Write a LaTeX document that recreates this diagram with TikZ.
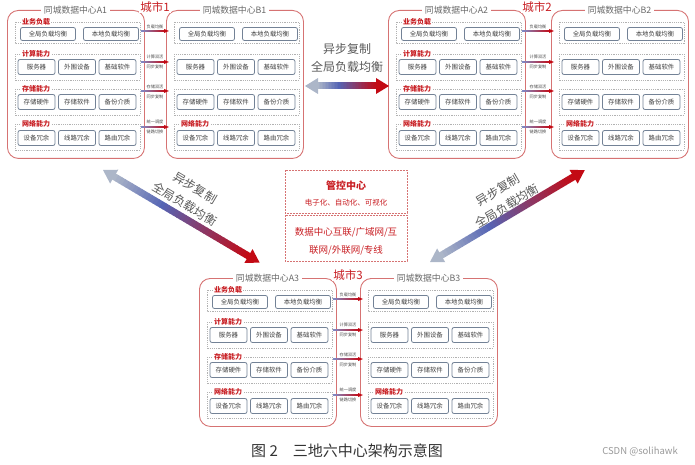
\documentclass[tikz,border=0pt]{standalone}
\usepackage{fontspec}
\setmainfont{Noto Sans CJK SC}
\definecolor{dcred}{RGB}{200,30,35}
\definecolor{dcline}{RGB}{214,115,115}
\definecolor{dcgrey}{RGB}{105,105,105}
\definecolor{btnline}{RGB}{115,130,150}
\definecolor{abgrey}{RGB}{172,182,200}
\definecolor{abblue}{RGB}{85,100,180}
\definecolor{abred}{RGB}{195,10,20}

\begin{document}
\begin{tikzpicture}[x=1pt,y=-1pt,
	cluster/.style={draw=dcline, line width=0.9pt, rounded corners=11pt, minimum width=137pt, minimum height=148pt, anchor=north west, inner sep=0pt},
	dctitle/.style={fill=white, text=dcgrey, font=\fontsize{8.8}{9}\selectfont, inner sep=2.5pt},
	city/.style={fill=white, text=dcred, font=\fontsize{11.5}{12}\selectfont, inner sep=1pt},
	grp/.style={draw=gray!60, dash pattern=on 1.2pt off 1pt, line width=0.5pt},
	grphead/.style={fill=white, text=dcred, font=\fontsize{7}{7}\selectfont\bfseries, inner sep=1pt, anchor=west},
	btn/.style={draw=btnline, line width=0.8pt, rounded corners=2pt, fill=white, text=black!75, font=\fontsize{6.4}{7}\selectfont, inner sep=0pt, minimum height=13pt},
	lnk/.style={text=black!70, font=\fontsize{4.2}{5}\selectfont, inner sep=0pt},
	mgbox/.style={draw=dcline, dash pattern=on 2pt off 1pt, line width=0.6pt},
	arrowtxt/.style={text=black!65, font=\fontsize{12}{18}\selectfont, inner sep=0pt},
	]
	\useasboundingbox (0,0) rectangle (695,465);
	
	% six data centres
	\foreach \cx/\cy/\nm/\dcname/\hd in {7/10/A1/同城数据中心A1/1, 166/10/B1/同城数据中心B1/0, 388/10/A2/同城数据中心A2/1, 551/10/B2/同城数据中心B2/0, 199/278/A3/同城数据中心A3/1, 360/278/B3/同城数据中心B3/0}{
		\begin{scope}[shift={(\cx,\cy)}]
			\node[cluster] (\nm) at (0,0) {};
			\draw[grp] (8,12) rectangle (133,33);
			\draw[grp] (8,44) rectangle (133,70);
			\draw[grp] (8,79) rectangle (133,105);
			\draw[grp] (8,114) rectangle (133,140);
			\node[dctitle] (\nm-title) at (68.5,0) {\dcname};
			\ifnum\hd=1
			\node[grphead] (\nm-h1) at (14,12) {业务负载};
			\node[grphead] (\nm-h2) at (14,44) {计算能力};
			\node[grphead] (\nm-h3) at (14,79) {存储能力};
			\fi
			\node[grphead] (\nm-h4) at (14,114) {网络能力};
			\node[btn, minimum width=55pt] (\nm-11) at (41,24) {全局负载均衡};
			\node[btn, minimum width=55pt] (\nm-12) at (104,24) {本地负载均衡};
			\foreach \ry/\r/\ba/\bb/\bc in {57/2/服务器/外围设备/基础软件, 92/3/存储硬件/存储软件/备份介质, 128/4/设备冗余/线路冗余/路由冗余}{
				\node[btn, minimum width=37pt, minimum height=15pt] (\nm-\r1) at (29.5,\ry) {\ba};
				\node[btn, minimum width=37pt, minimum height=15pt] (\nm-\r2) at (70,\ry) {\bb};
				\node[btn, minimum width=37pt, minimum height=15pt] (\nm-\r3) at (110.5,\ry) {\bc};
			}
		\end{scope}
	}
	
	% links inside each city
	\foreach \ax/\bx/\ly/\pr in {144/166/10/1, 525/551/10/2, 336/360/278/3}{
		\pgfmathsetmacro\mx{(\ax+\bx)/2}
		\foreach \ay in {21,52,81,117}{
			\shade[left color=abblue!75!white, right color=abred] (\ax-3,\ly+\ay-0.8) rectangle (\bx-1,\ly+\ay+0.8);
			\fill[abred] (\bx+3,\ly+\ay) -- (\bx-2,\ly+\ay-2) -- (\bx-2,\ly+\ay+2) -- cycle;
		}
		\node[lnk] (lk\pr-1) at (\mx,\ly+17) {负载均衡};
		\node[lnk] (lk\pr-2) at (\mx,\ly+47) {计算双活};
		\node[lnk] (lk\pr-3) at (\mx,\ly+57) {同步复制};
		\node[lnk] (lk\pr-4) at (\mx,\ly+77) {存储双活};
		\node[lnk] (lk\pr-5) at (\mx,\ly+87) {同步复制};
		\node[lnk] (lk\pr-6) at (\mx,\ly+112) {统一调度};
		\node[lnk] (lk\pr-7) at (\mx,\ly+122) {链路切换};
	}
	
	\node[city] (city1) at (155,7) {城市1};
	\node[city] (city2) at (537,7) {城市2};
	\node[city] (city3) at (348,275) {城市3};
	
	% big gradient arrows between cities
	\foreach \sx/\sy/\ang/\len in {305/86/0/84, 103/170/-30.6/182, 430/262/30.7/180}{
		\begin{scope}[shift={(\sx,\sy)}, rotate=\ang]
			\foreach \i in {0,...,39}{
				\pgfmathsetmacro\sa{12+(\len-24)*\i/40}
				\pgfmathsetmacro\sb{12+(\len-24)*(\i+1)/40+0.5}
				\ifnum\i<14
				\pgfmathtruncatemacro\pc{100*\i/14}
				\fill[abblue!\pc!abgrey] (\sa,-3.5) rectangle (\sb,3.5);
				\else
				\pgfmathtruncatemacro\pc{100*(\i-14)/25}
				\fill[abred!\pc!abblue] (\sa,-3.5) rectangle (\sb,3.5);
				\fi
			}
			\fill[abgrey] (0,0) -- (13,-8) -- (13,8) -- cycle;
			\fill[abred] (\len,0) -- (\len-13,-8) -- (\len-13,8) -- cycle;
		\end{scope}
	}
	\node[arrowtxt] (asyncT1) at (347,49) {异步复制};
	\node[arrowtxt] (asyncT2) at (347,67) {全局负载均衡};
	\node[arrowtxt, rotate=-30.6] (asyncL1) at (195,188) {异步复制};
	\node[arrowtxt, rotate=-30.6] (asyncL2) at (185,204) {全局负载均衡};
	\node[arrowtxt, rotate=30.7] (asyncR1) at (498,190) {异步复制};
	\node[arrowtxt, rotate=30.7] (asyncR2) at (507,206) {全局负载均衡};
	
	% control centre
	\draw[mgbox] (285,170) rectangle (407,213);
	\node[text=dcred, font=\fontsize{10}{12}\selectfont\bfseries] (mgc) at (346,186) {管控中心};
	\node[text=dcred, font=\fontsize{7.5}{9}\selectfont] (mgsub) at (346,203) {电子化、自动化、可视化};
	\draw[mgbox] (285,215) rectangle (407,261);
	\node[text=dcred, font=\fontsize{9.5}{18}\selectfont, align=center] (dci) at (346,241) {数据中心互联/广域网/互\\联网/外联网/专线};
	
	\node[text=black!80, font=\fontsize{15}{17}\selectfont] (cap) at (347,451) {图 2\quad 三地六中心架构示意图};
	\node[text=black!40, font=\fontsize{9.5}{11}\selectfont] (wm) at (640,452) {CSDN @solihawk};
\end{tikzpicture}
\end{document}
